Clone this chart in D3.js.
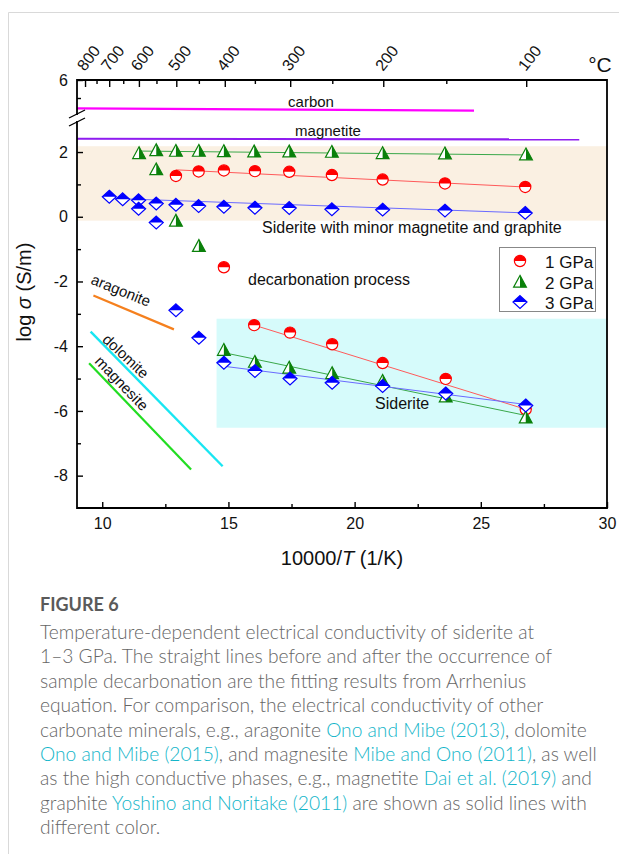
<!DOCTYPE html>
<html>
<head>
<meta charset="utf-8">
<script src="https://cdn.jsdelivr.net/npm/d3@7"></script>
<style>
  html, body { margin: 0; padding: 0; background: #fff; }
  svg { display: block; }
  .ax text { font-family: Arial, "Liberation Sans", sans-serif; font-size: 16px; fill: #111; }
</style>
</head>
<body>
<script>
// ---------- data ----------
// 1 GPa (circles)
const p1HighX = [12.92, 13.82, 14.82, 16.05, 17.41, 19.1, 21.11, 23.58, 26.76];
const p1HighY = [1.26, 1.40, 1.43, 1.41, 1.39, 1.29, 1.15, 1.03, 0.92];
const p1DecX = [14.82];
const p1DecY = [-1.56];
const p1SidX = [16.02, 17.44, 19.11, 21.11, 23.61, 26.78];
const p1SidY = [-3.35, -3.58, -3.94, -4.52, -5.01, -5.95];
// 2 GPa (triangles)
const p2HighX = [11.46, 12.14, 12.92, 13.83, 14.82, 16.02, 17.41, 19.1, 21.11, 23.58, 26.79];
const p2HighY = [1.96, 2.05, 2.03, 2.03, 2.02, 2.01, 2.01, 2.0, 1.96, 1.95, 1.92];
const p2DecX = [12.14, 12.92, 13.83];
const p2DecY = [1.46, -0.13, -0.91];
const p2SidX = [14.82, 16.05, 17.41, 19.11, 21.11, 23.61, 26.78];
const p2SidY = [-4.12, -4.49, -4.67, -4.84, -5.08, -5.56, -6.21];
// 3 GPa (diamonds)
const p3HighX = [10.28, 10.81, 11.44, 11.44, 12.14, 12.92, 13.82, 14.82, 16.05, 17.41, 19.1, 21.11, 23.58, 26.76];
const p3HighY = [0.62, 0.54, 0.51, 0.25, 0.41, 0.37, 0.33, 0.31, 0.28, 0.27, 0.23, 0.22, 0.19, 0.12];
const p3DecX = [12.14, 12.92, 13.83];
const p3DecY = [-0.18, -2.89, -3.74];
const p3SidX = [14.82, 16.05, 17.44, 19.11, 21.11, 23.61, 26.78];
const p3SidY = [-4.51, -4.77, -5.0, -5.13, -5.23, -5.46, -5.83];

// Arrhenius fit lines (end points)
const fit1HighX = [12.92, 26.76], fit1HighY = [1.45, 0.92];
const fit2HighX = [11.46, 26.79], fit2HighY = [2.03, 1.91];
const fit3HighX = [10.28, 26.76], fit3HighY = [0.57, 0.12];
const fit1SidX = [16.02, 26.78], fit1SidY = [-3.35, -5.95];
const fit2SidX = [14.82, 26.78], fit2SidY = [-4.2, -6.14];
const fit3SidX = [14.82, 26.78], fit3SidY = [-4.62, -5.8];

// Other minerals and conductive phases
const aragoniteX = [9.65, 12.84], aragoniteY = [-2.43, -3.48];
const dolomiteX = [9.54, 14.77], dolomiteY = [-3.55, -7.71];
const magnesiteX = [9.48, 13.52], magnesiteY = [-4.53, -7.81];
const magnetiteX = [9.0, 28.9], magnetiteY = [2.41, 2.39];
const carbonX = [9.0, 24.73], carbonY = [4.42, 4.30];

// Shaded regions
const bandHighX = [9, 30], bandHighY = [-0.12, 2.18];
const bandSidX = [14.53, 30], bandSidY = [-6.52, -3.15];

// Axis ticks
const xTicks = [10, 15, 20, 25, 30];
const xMinor = [12.5, 17.5, 22.5, 27.5];
const yTicks = [-8, -6, -4, -2, 0, 2];
const yMinor = [-7, -5, -3, -1, 1];
const yTopTicks = [6];
const yTopMinor = [5];
const tempTicks = [800, 700, 600, 500, 400, 300, 200, 100];
const tempMinor = [750, 650, 550, 450, 350, 250, 150];

const legendLabels = ["1 GPa", "2 GPa", "3 GPa"];

// ---------- layout ----------
const W = 619, H = 854;
const L = 77, R = 607, T = 80, B = 508;
const breakLo = 121, breakHi = 115;

const svg = d3.select("body").append("svg").attr("width", W).attr("height", H);

// card frame
svg.append("path").attr("d", `M8.5,${H} V12.5 H${W}`).attr("fill", "none")
  .attr("stroke", "#d9d9d9").attr("stroke-width", 1);

const x = d3.scaleLinear().domain([9, 30]).range([L, R]);
const yLow = d3.scaleLinear().domain([-9, 3]).range([B, B - 12 * 32.36]);
const yHigh = d3.scaleLinear().domain([4, 6]).range([116, T]);
const y = v => (v > 3.5 ? yHigh(v) : yLow(v));

const plot = svg.append("g");

// bands
plot.append("rect").attr("x", x(bandHighX[0])).attr("width", x(bandHighX[1]) - x(bandHighX[0]))
  .attr("y", y(bandHighY[1])).attr("height", y(bandHighY[0]) - y(bandHighY[1]))
  .attr("fill", "#faf0e2");
plot.append("rect").attr("x", x(bandSidX[0])).attr("width", x(bandSidX[1]) - x(bandSidX[0]))
  .attr("y", y(bandSidY[1])).attr("height", y(bandSidY[0]) - y(bandSidY[1]))
  .attr("fill", "#d6fbfb");

const line = d3.line().x(d => x(d[0])).y(d => y(d[1]));
const seg = (xs, ys, color, w) =>
  plot.append("path").attr("d", line(d3.zip(xs, ys))).attr("fill", "none")
    .attr("stroke", color).attr("stroke-width", w);

// reference lines
seg(carbonX, carbonY, "#ff00ff", 2.2);
seg(magnetiteX, magnetiteY, "#8f1cf0", 2.2);
seg(aragoniteX, aragoniteY, "#f5801e", 2.2);
seg(dolomiteX, dolomiteY, "#18e6f2", 2.4);
seg(magnesiteX, magnesiteY, "#22dd22", 2.2);

// fit lines
seg(fit1HighX, fit1HighY, "#ff5a5a", 1);
seg(fit2HighX, fit2HighY, "#3aa84a", 1);
seg(fit3HighX, fit3HighY, "#6a6aff", 1);
seg(fit1SidX, fit1SidY, "#ff5a5a", 1);
seg(fit2SidX, fit2SidY, "#3aa84a", 1);
seg(fit3SidX, fit3SidY, "#6a6aff", 1);

// half-filled markers
function circleMark(g, cx, cy) {
  const r = 5.6;
  g.append("circle").attr("cx", cx).attr("cy", cy).attr("r", r).attr("fill", "#fff");
  g.append("path").attr("d", `M${cx - r},${cy} A${r},${r} 0 0 1 ${cx + r},${cy} Z`).attr("fill", "#ff0000");
  g.append("circle").attr("cx", cx).attr("cy", cy).attr("r", r).attr("fill", "none")
    .attr("stroke", "#ff0000").attr("stroke-width", 1.2);
}
function triMark(g, cx, cy) {
  const h = 6.6, w = 6.4, b = 5.2;
  g.append("path").attr("d", `M${cx},${cy - h} L${cx + w},${cy + b} L${cx - w},${cy + b} Z`).attr("fill", "#fff");
  g.append("path").attr("d", `M${cx},${cy - h} L${cx + w},${cy + b} L${cx},${cy + b} Z`).attr("fill", "#0a800a");
  g.append("path").attr("d", `M${cx},${cy - h} L${cx + w},${cy + b} L${cx - w},${cy + b} Z`).attr("fill", "none")
    .attr("stroke", "#0a800a").attr("stroke-width", 1.2).attr("stroke-linejoin", "miter");
}
function diaMark(g, cx, cy) {
  const w = 7, h = 6.4;
  g.append("path").attr("d", `M${cx},${cy - h} L${cx + w},${cy} L${cx},${cy + h} L${cx - w},${cy} Z`).attr("fill", "#fff");
  g.append("path").attr("d", `M${cx - w},${cy} L${cx},${cy - h} L${cx + w},${cy} Z`).attr("fill", "#0000ff");
  g.append("path").attr("d", `M${cx},${cy - h} L${cx + w},${cy} L${cx},${cy + h} L${cx - w},${cy} Z`).attr("fill", "none")
    .attr("stroke", "#0000ff").attr("stroke-width", 1.2);
}
const marks = plot.append("g");
const drawSet = (xs, ys, fn) => xs.forEach((v, i) => fn(marks, x(v), y(ys[i])));
drawSet(p1HighX, p1HighY, circleMark);
drawSet(p1DecX, p1DecY, circleMark);
drawSet(p1SidX, p1SidY, circleMark);
drawSet(p2HighX, p2HighY, triMark);
drawSet(p2DecX, p2DecY, triMark);
drawSet(p2SidX, p2SidY, triMark);
drawSet(p3HighX, p3HighY, diaMark);
drawSet(p3DecX, p3DecY, diaMark);
drawSet(p3SidX, p3SidY, diaMark);

// in-plot labels
const FONT = "Arial, 'Liberation Sans', sans-serif";
const label = (txt, px, py, size, anchor, rot) => {
  const t = svg.append("text").attr("x", px).attr("y", py).text(txt)
    .attr("font-family", FONT).attr("font-size", size).attr("fill", "#111")
    .attr("text-anchor", anchor || "start").attr("dominant-baseline", "central");
  if (rot) t.attr("transform", `rotate(${rot},${px},${py})`);
  return t;
};
label("carbon", 311, 101, 15, "middle");
label("magnetite", 328, 130, 15, "middle");
label("Siderite with minor magnetite and graphite", 262, 227, 16);
label("decarbonation process", 248, 279, 16);
label("Siderite", 375, 403, 16);
label("aragonite", 121, 290, 15, "middle", 22);
label("dolomite", 126, 356, 15, "middle", 43);
label("magnesite", 122, 383, 15, "middle", 46);

// legend
const lg = svg.append("g");
lg.append("rect").attr("x", 499.5).attr("y", 247.5).attr("width", 96).attr("height", 64)
  .attr("fill", "#fff").attr("stroke", "#888").attr("stroke-width", 1);
const legY = [261, 282, 302];
const legFns = [circleMark, triMark, diaMark];
legendLabels.forEach((s, i) => {
  legFns[i](lg, 520, legY[i]);
  label(s, 545, legY[i] + 1, 17);
});

// ---------- axes ----------
const axG = svg.append("g").attr("class", "ax");
const plain = d => String(d);

// bottom
axG.append("g").attr("transform", `translate(0,${B})`)
  .call(d3.axisBottom(x).tickValues(xTicks).tickSize(-6).tickPadding(10).tickFormat(plain));
axG.append("g").attr("transform", `translate(0,${B})`)
  .call(d3.axisBottom(x).tickValues(xMinor).tickSize(-4).tickFormat(""));

// left (lower segment)
axG.append("g").attr("transform", `translate(${L},0)`)
  .call(d3.axisLeft(yLow).tickValues(yTicks).tickSize(-6).tickPadding(9).tickFormat(plain));
axG.append("g").attr("transform", `translate(${L},0)`)
  .call(d3.axisLeft(yLow).tickValues(yMinor).tickSize(-4).tickFormat(""));
// left (upper segment)
axG.append("g").attr("transform", `translate(${L},0)`)
  .call(d3.axisLeft(yHigh).tickValues(yTopTicks).tickSize(-6).tickPadding(9).tickFormat(plain));
axG.append("g").attr("transform", `translate(${L},0)`)
  .call(d3.axisLeft(yHigh).tickValues(yTopMinor).tickSize(-4).tickFormat(""));

// top: temperature in °C
const invT = c => 10000 / (c + 273.15);
const tempAxis = axG.append("g").attr("transform", `translate(0,${T})`)
  .call(d3.axisTop(x).tickValues(tempTicks.map(invT)).tickSize(-7)
    .tickFormat((d, i) => tempTicks[i]));
axG.append("g").attr("transform", `translate(0,${T})`)
  .call(d3.axisTop(x).tickValues(tempMinor.map(invT)).tickSize(-4).tickFormat(""));
tempAxis.selectAll(".tick text")
  .attr("text-anchor", "middle").attr("dominant-baseline", "central")
  .attr("x", 3).attr("y", -22).attr("transform", "rotate(-52,3,-22)");

// remove default domain paths and draw the frame with the axis break
axG.selectAll(".domain").remove();
axG.selectAll(".tick line").attr("stroke", "#000").attr("stroke-width", 1.4);
const frame = svg.append("g").attr("stroke", "#000").attr("stroke-width", 1.8).attr("fill", "none");
frame.append("path").attr("d", `M${L},${breakHi} V${T} H${R} V${B} H${L} V${breakLo}`);
// break marks
frame.append("path").attr("d", `M${L - 8},${breakHi + 3} L${L + 8},${breakHi - 5}`).attr("stroke-width", 1.3);
frame.append("path").attr("d", `M${L - 8},${breakLo + 5} L${L + 8},${breakLo - 3}`).attr("stroke-width", 1.3);

// axis titles
const xt = svg.append("text").attr("x", 342).attr("y", 558).attr("text-anchor", "middle")
  .attr("dominant-baseline", "central").attr("font-family", FONT).attr("font-size", 20).attr("fill", "#111");
xt.append("tspan").text("10000/");
xt.append("tspan").text("T").attr("font-style", "italic");
xt.append("tspan").text(" (1/K)");

const yt = svg.append("text").attr("transform", "translate(24,292) rotate(-90)").attr("text-anchor", "middle")
  .attr("dominant-baseline", "central").attr("font-family", FONT).attr("font-size", 20).attr("fill", "#111");
yt.append("tspan").text("log ");
yt.append("tspan").text("σ").attr("font-style", "italic");
yt.append("tspan").text(" (S/m)");

label("°C", 600, 64, 21, "middle");

// ---------- caption ----------
const CAP = "Lato, 'Open Sans', sans-serif";
svg.append("text").attr("x", 40).attr("y", 604).attr("dominant-baseline", "central")
  .attr("font-family", CAP).attr("font-weight", 700).attr("font-size", 18).attr("fill", "#5a5a5a")
  .text("FIGURE 6");
const capLines = [
  [["Temperature-dependent electrical conductivity of siderite at", 0]],
  [["1–3 GPa. The straight lines before and after the occurrence of", 0]],
  [["sample decarbonation are the fitting results from Arrhenius", 0]],
  [["equation. For comparison, the electrical conductivity of other", 0]],
  [["carbonate minerals, e.g., aragonite ", 0], ["Ono and Mibe (2013)", 1], [", dolomite", 0]],
  [["Ono and Mibe (2015)", 1], [", and magnesite ", 0], ["Mibe and Ono (2011)", 1], [", as well", 0]],
  [["as the high conductive phases, e.g., magnetite ", 0], ["Dai et al. (2019)", 1], [" and", 0]],
  [["graphite ", 0], ["Yoshino and Noritake (2011)", 1], [" are shown as solid lines with", 0]],
  [["different color.", 0]]
];
capLines.forEach((parts, i) => {
  const t = svg.append("text").attr("x", 40).attr("y", 631 + i * 24.4).attr("dominant-baseline", "central")
    .attr("font-family", CAP).attr("font-weight", 300).attr("font-size", 19.2).attr("fill", "#666");
  parts.forEach(p => t.append("tspan").text(p[0]).attr("fill", p[1] ? "#12b5c9" : "#666"));
});
</script>
</body>
</html>
